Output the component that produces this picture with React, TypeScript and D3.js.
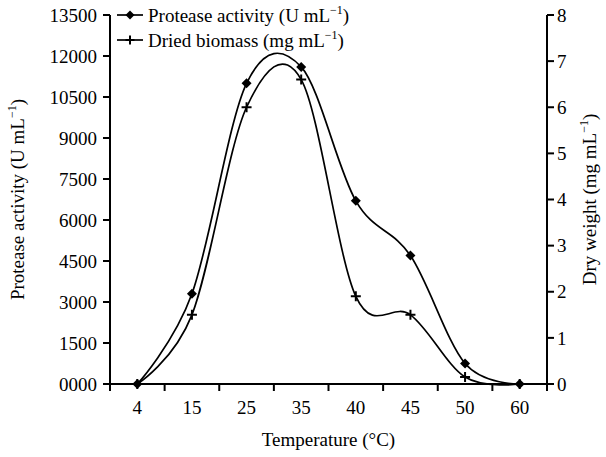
import React from "react";
import { scaleBand, scaleLinear, line, curveCardinal, range, format } from "d3";

const temps = ["4", "15", "25", "35", "40", "45", "50", "60"];
const protease = [0, 3300, 11000, 11600, 6700, 4700, 750, 0];
const biomass = [0, 1.5, 6.0, 6.6, 1.9, 1.5, 0.15, 0];
const leftTicks = range(0, 13501, 1500);
const rightTicks = range(0, 9, 1);

const W = 606;
const H = 457;
const L = 110, R = 547, T = 15, B = 384;
const FONT = "'Liberation Serif', 'Times New Roman', serif";
const FS = 19;

function Diamond({ cx, cy, r = 5.5 }: { cx: number; cy: number; r?: number }) {
  return (
    <path
      d={`M${cx},${cy - r}L${cx + r},${cy}L${cx},${cy + r}L${cx - r},${cy}Z`}
      fill="#000"
    />
  );
}

function Cross({ cx, cy, r = 5 }: { cx: number; cy: number; r?: number }) {
  return (
    <path
      d={`M${cx - r},${cy}H${cx + r}M${cx},${cy - r}V${cy + r}`}
      stroke="#000"
      strokeWidth={2}
    />
  );
}

function Unit({ pre }: { pre: string }) {
  return (
    <>
      {pre}<tspan dy={-8} fontSize={12}>−1</tspan><tspan dy={8}>)</tspan>
    </>
  );
}

export default function App() {
  const x = scaleBand<string>().domain(temps).range([L, R]);
  const cxOf = (t: string) => (x(t) as number) + x.bandwidth() / 2;
  const yL = scaleLinear().domain([0, 13500]).range([B, T]);
  const yR = scaleLinear().domain([0, 8]).range([B, T]);
  const fmt = format("04d");

  const protLine = line<number>()
    .x((_, i) => cxOf(temps[i]))
    .y((d) => yL(d))
    .curve(curveCardinal.tension(0));
  const bioLine = line<number>()
    .x((_, i) => cxOf(temps[i]))
    .y((d) => yR(d))
    .curve(curveCardinal.tension(0));

  const bounds = range(0, temps.length + 1).map((i) => L + i * x.step());

  return (
    <svg width={W} height={H} style={{ position: "absolute", left: 0, top: 0 }} fontFamily={FONT} fontSize={FS}>
      <rect width={W} height={H} fill="#fff" />
      {/* left axis */}
      <line x1={L} x2={L} y1={T} y2={B} stroke="#000" strokeWidth={2} />
      {leftTicks.map((v) => (
        <g key={v}>
          <line x1={L - 7} x2={L} y1={yL(v)} y2={yL(v)} stroke="#000" strokeWidth={2} />
          <text x={L - 13} y={yL(v)} dy="0.35em" textAnchor="end">{fmt(v)}</text>
        </g>
      ))}
      {/* right axis */}
      <line x1={R} x2={R} y1={T} y2={B} stroke="#000" strokeWidth={2} />
      {rightTicks.map((v) => (
        <g key={v}>
          <line x1={R} x2={R + 7} y1={yR(v)} y2={yR(v)} stroke="#000" strokeWidth={2} />
          <text x={R + 10} y={yR(v)} dy="0.35em">{v}</text>
        </g>
      ))}
      {/* x axis */}
      <line x1={L} x2={R} y1={B} y2={B} stroke="#000" strokeWidth={2} />
      {bounds.map((bx, i) => (
        <line key={i} x1={bx} x2={bx} y1={B} y2={B + 7} stroke="#000" strokeWidth={2} />
      ))}
      {temps.map((t) => (
        <text key={t} x={cxOf(t)} y={B + 30} textAnchor="middle">{t}</text>
      ))}
      <text x={(L + R) / 2} y={B + 62} textAnchor="middle">Temperature (°C)</text>
      <text transform={`translate(24,${(T + B) / 2}) rotate(-90)`} textAnchor="middle">
        <Unit pre="Protease activity (U mL" />
      </text>
      <text transform={`translate(596,${(T + B) / 2}) rotate(-90)`} textAnchor="middle">
        <Unit pre="Dry weight (mg mL" />
      </text>

      {/* series */}
      <path d={protLine(protease) || ""} fill="none" stroke="#000" strokeWidth={1.7} />
      <path d={bioLine(biomass) || ""} fill="none" stroke="#000" strokeWidth={1.7} />
      {protease.map((v, i) => (
        <Diamond key={i} cx={cxOf(temps[i])} cy={yL(v)} r={5} />
      ))}
      {biomass.map((v, i) => (
        <Cross key={i} cx={cxOf(temps[i])} cy={yR(v)} r={5} />
      ))}

      {/* legend */}
      <line x1={117} x2={143} y1={15} y2={15} stroke="#000" strokeWidth={1.7} />
      <Diamond cx={130} cy={15} r={4.5} />
      <text x={148} y={15} dy="0.35em">
        <Unit pre="Protease activity (U mL" />
      </text>
      <line x1={117} x2={143} y1={40} y2={40} stroke="#000" strokeWidth={1.7} />
      <Cross cx={130} cy={40} r={4.5} />
      <text x={148} y={40} dy="0.35em">
        <Unit pre="Dried biomass (mg mL" />
      </text>
    </svg>
  );
}
